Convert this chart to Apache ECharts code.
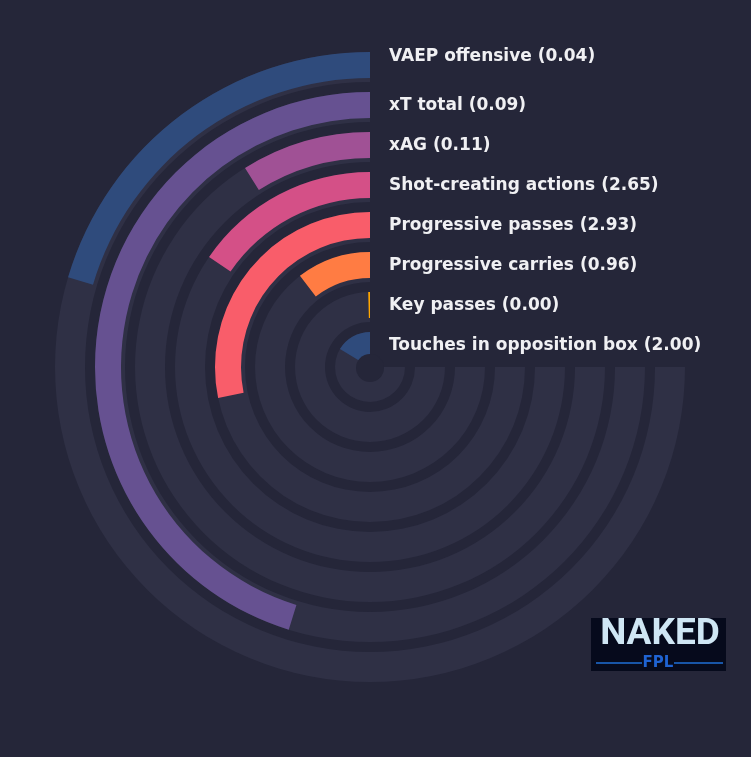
<!DOCTYPE html>
<html>
<head>
<meta charset="utf-8">
<script src="https://cdn.jsdelivr.net/npm/echarts@6/dist/echarts.min.js"></script>
<style>
html,body{margin:0;padding:0;background:#252639;}
#chart{width:751px;height:757px;}
</style>
</head>
<body>
<div id="chart"></div>
<script>
// Categories from the inside ring to the outside ring
const categories = ['Touches in opposition box', 'Key passes', 'Progressive carries', 'Progressive passes', 'Shot-creating actions', 'xAG', 'xT total', 'VAEP offensive'];
const rawValues = [2.00, 0.00, 0.96, 2.93, 2.65, 0.11, 0.09, 0.04];
// Filled share of each 270° track (percent)
const barValues = [21.9, 0.5, 13.9, 37.6, 20.6, 11.9, 60.3, 27.2];
const trackValues = [100, 100, 100, 100, 100, 100, 100, 100];
const barColors = ['#2f4b7c', '#ffa600', '#ff7c43', '#f95d6a', '#d45087', '#a05195', '#665191', '#2f4b7c'];

const chart = echarts.init(document.getElementById('chart'), null, {renderer: 'canvas'});
const cx = 370, cy = 367;
const bg = '#252639';

function angleAxis(idx) {
  return {
    polarIndex: idx, type: 'value', min: 0, max: 400 / 3, startAngle: 90, clockwise: false,
    show: false, axisLine: {show: false}, splitLine: {show: false}, axisTick: {show: false}, axisLabel: {show: false}
  };
}
function radiusAxis(idx) {
  return {
    polarIndex: idx, type: 'category', data: categories,
    axisLine: {show: false}, axisTick: {show: false}, axisLabel: {show: false}, splitLine: {show: false}
  };
}

const option = {
  backgroundColor: bg,
  animation: false,
  polar: [
    {center: [cx, cy], radius: [0, 320]},
    {center: [cx, cy], radius: [2, 322]}
  ],
  angleAxis: [angleAxis(0), angleAxis(1)],
  radiusAxis: [radiusAxis(0), radiusAxis(1)],
  series: [
    {
      type: 'bar', coordinateSystem: 'polar', polarIndex: 0, name: 'track',
      data: trackValues, barWidth: 30,
      itemStyle: {color: '#2f3045'}, silent: true, z: 1
    },
    {
      type: 'bar', coordinateSystem: 'polar', polarIndex: 1, name: 'value',
      data: barValues.map((v, i) => ({value: v, itemStyle: {color: barColors[i]}})),
      barWidth: 26, silent: true, z: 2
    }
  ]
};
chart.setOption(option);

const graphics = [];
// Central hole
graphics.push({type: 'circle', shape: {cx: cx, cy: cy + 1, r: 14}, style: {fill: bg}, z: 10});

// Labels placed at each ring, using the polar coordinate system
categories.forEach((c, i) => {
  let pt = null;
  try { pt = chart.convertToPixel({polarIndex: 1}, [i, 0]); } catch (e) { pt = null; }
  let y = pt ? pt[1] + 1 : cy - (22 + 40 * i) + 1;
  if (i === categories.length - 1) y -= 9;
  graphics.push({
    type: 'text', x: cx + 19, y: y, z: 20,
    style: {
      text: c + ' (' + rawValues[i].toFixed(2) + ')',
      fill: '#f0f0f3', font: 'bold 17px "DejaVu Sans"', textVerticalAlign: 'middle', textAlign: 'left'
    }
  });
});

// Logo
graphics.push(
  {type: 'rect', shape: {x: 591, y: 618, width: 135, height: 53}, style: {fill: '#060a1c'}, z: 20},
  {type: 'text', x: 660, y: 635, z: 21, style: {text: 'NAKED', fill: '#cfe6f4', font: 'bold 37px Roboto', textAlign: 'center', textVerticalAlign: 'middle'}},
  {type: 'line', z: 21, shape: {x1: 596, y1: 663, x2: 642, y2: 663}, style: {stroke: '#1f6fd6', lineWidth: 1.5}},
  {type: 'line', z: 21, shape: {x1: 674, y1: 663, x2: 723, y2: 663}, style: {stroke: '#1f6fd6', lineWidth: 1.5}},
  {type: 'text', x: 658, y: 663, z: 21, style: {text: 'FPL', fill: '#1f63d2', font: 'bold 15px "DejaVu Sans"', textAlign: 'center', textVerticalAlign: 'middle'}}
);
chart.setOption({graphic: graphics});
</script>
</body>
</html>
